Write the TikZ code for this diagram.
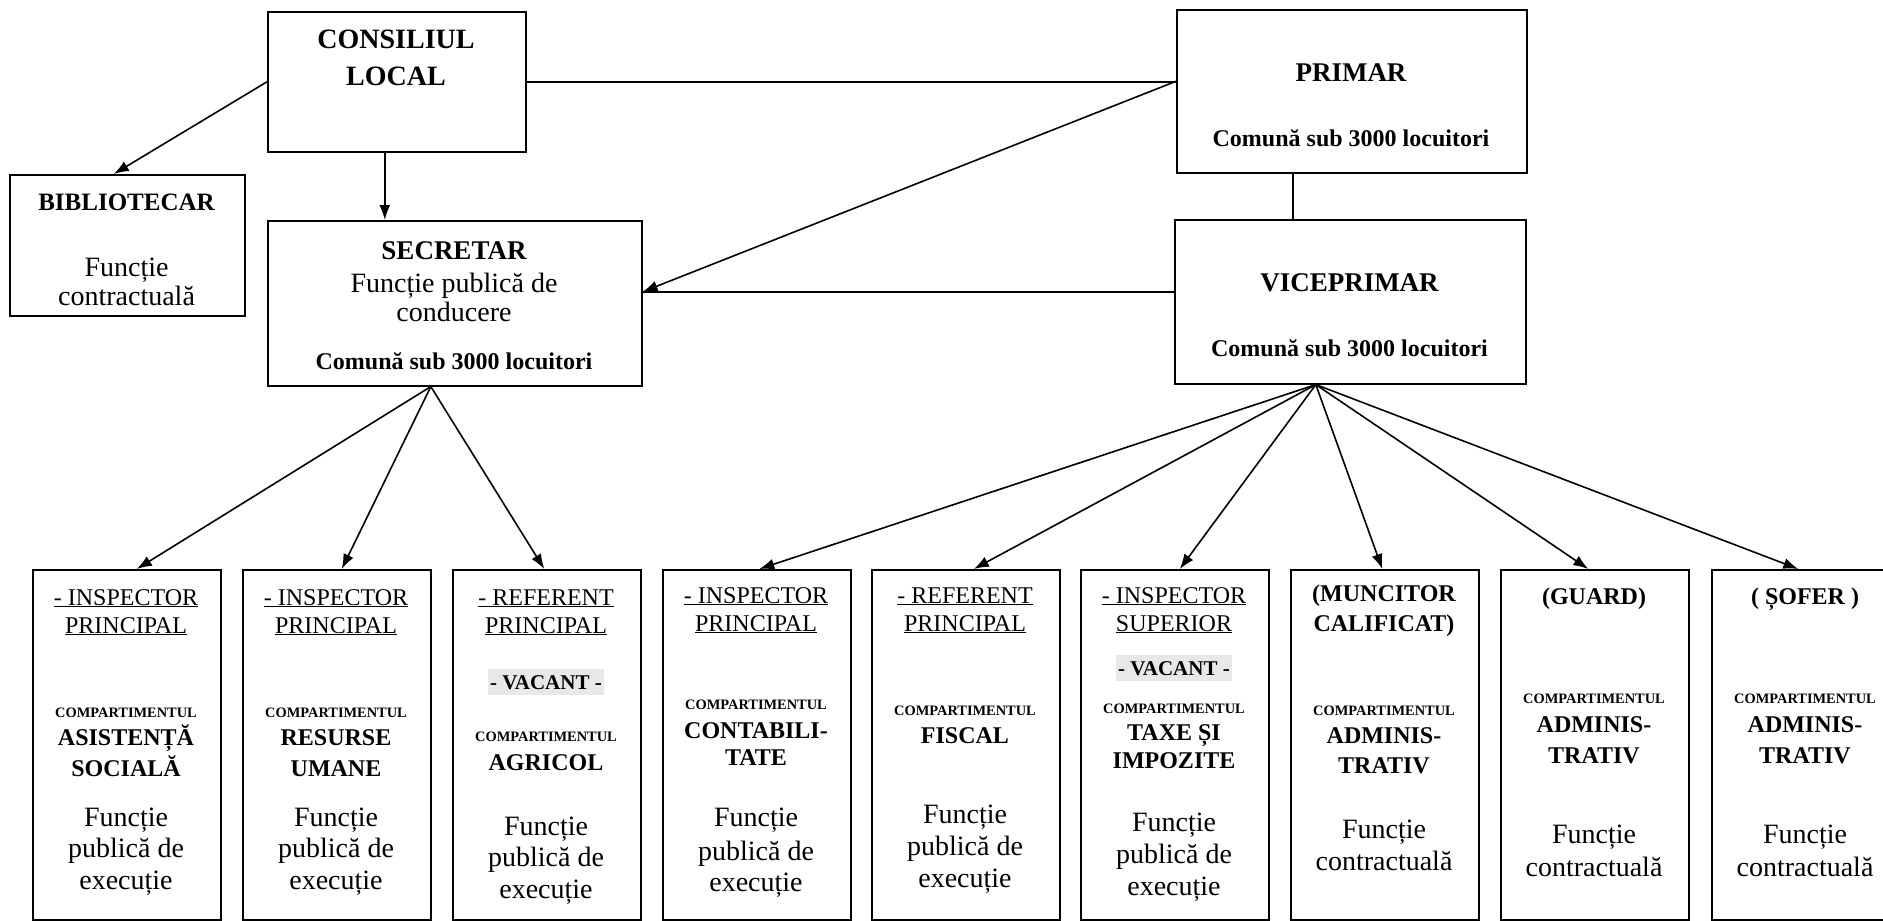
\documentclass[tikz,border=0pt]{standalone}
\usepackage{fontspec}
\setmainfont{Liberation Serif}
\usetikzlibrary{arrows.meta}
\newcommand\fsz[1]{\fontsize{#1}{#1}\selectfont}
\begin{document}
\begin{tikzpicture}[x=1pt,y=-1pt,
  box/.style={draw, line width=1.6pt, anchor=north west, inner sep=0pt},
  ln/.style={line width=1.6pt},
  arr/.style={line width=1.6pt, -{Latex[length=15pt,width=11pt]}},
  tx/.style={anchor=base, inner sep=0pt},
  ttl/.style={tx, font=\fsz{27}\bfseries},
  com/.style={tx, font=\fsz{24}\bfseries},
  fn/.style={tx, font=\fsz{28}},
  hd/.style={tx, font=\fsz{24}},
  hdb/.style={tx, font=\fsz{24}\bfseries},
  cp/.style={tx, font=\fsz{14.4}\bfseries},
  mn/.style={tx, font=\fsz{24}\bfseries},
  vac/.style={tx, font=\fsz{21}\bfseries, fill=black!9, inner xsep=2pt, inner ysep=6pt},
]
\fill[white] (0,0) rectangle (1883,921);
\useasboundingbox (0,0) rectangle (1883,921);
\clip (0,0) rectangle (1883,921);

% top boxes
\node[box, minimum width=258pt, minimum height=140pt] (CL) at (267,11) {};
\node[box, minimum width=235pt, minimum height=141pt] (BIB) at (9,174) {};
\node[box, minimum width=374pt, minimum height=165pt] (SEC) at (267,220) {};
\node[box, minimum width=350pt, minimum height=163pt] (PR) at (1176,9) {};
\node[box, minimum width=351pt, minimum height=164pt] (VICE) at (1174,219) {};

\node[tx, font=\fsz{28}\bfseries] (cl1) at (396,48) {CONSILIUL};
\node[tx, font=\fsz{28}\bfseries] (cl2) at (396,85) {LOCAL};

\node[tx, font=\fsz{25}\bfseries] (bib1) at (126.5,210) {BIBLIOTECAR};
\node[fn] (bib2) at (126.5,276) {Funcție};
\node[fn] (bib3) at (126.5,305) {contractuală};

\node[ttl] (sec1) at (454,259) {SECRETAR};
\node[fn] (sec2) at (454,292) {Funcție publică de};
\node[fn] (sec3) at (454,321) {conducere};
\node[com] (sec4) at (454,369) {Comună sub 3000 locuitori};

\node[ttl] (pr1) at (1351,81) {PRIMAR};
\node[com] (pr2) at (1351,146) {Comună sub 3000 locuitori};

\node[ttl] (vp1) at (1349.5,291) {VICEPRIMAR};
\node[com] (vp2) at (1349.5,356) {Comună sub 3000 locuitori};

% bottom boxes
\node[box, minimum width=188pt, minimum height=350pt] (b1) at (32,569) {};
\node[box, minimum width=188pt, minimum height=350pt] (b2) at (242,569) {};
\node[box, minimum width=188pt, minimum height=350pt] (b3) at (452,569) {};
\node[box, minimum width=188pt, minimum height=350pt] (b4) at (662,569) {};
\node[box, minimum width=188pt, minimum height=350pt] (b5) at (871,569) {};
\node[box, minimum width=188pt, minimum height=350pt] (b6) at (1080,569) {};
\node[box, minimum width=188pt, minimum height=350pt] (b7) at (1290,569) {};
\node[box, minimum width=188pt, minimum height=350pt] (b8) at (1500,569) {};
\node[box, minimum width=188pt, minimum height=350pt] (b9) at (1711,569) {};

% box 1
\node[hd] (t1a) at (126,605) {\underline{- INSPECTOR}};
\node[hd] (t1b) at (126,633) {\underline{PRINCIPAL}};
\node[cp] (t1c) at (126,717) {COMPARTIMENTUL};
\node[mn] (t1d) at (126,745) {ASISTENȚĂ};
\node[mn] (t1e) at (126,776) {SOCIALĂ};
\node[fn] (t1f) at (126,826) {Funcție};
\node[fn] (t1g) at (126,857) {publică de};
\node[fn] (t1h) at (126,889) {execuție};
% box 2
\node[hd] (t2a) at (336,605) {\underline{- INSPECTOR}};
\node[hd] (t2b) at (336,633) {\underline{PRINCIPAL}};
\node[cp] (t2c) at (336,717) {COMPARTIMENTUL};
\node[mn] (t2d) at (336,745) {RESURSE};
\node[mn] (t2e) at (336,776) {UMANE};
\node[fn] (t2f) at (336,826) {Funcție};
\node[fn] (t2g) at (336,857) {publică de};
\node[fn] (t2h) at (336,889) {execuție};
% box 3
\node[hd] (t3a) at (546,605) {\underline{- REFERENT}};
\node[hd] (t3b) at (546,633) {\underline{PRINCIPAL}};
\node[vac] (t3v) at (546,689) {- VACANT -};
\node[cp] (t3c) at (546,741) {COMPARTIMENTUL};
\node[mn] (t3d) at (546,770) {AGRICOL};
\node[fn] (t3f) at (546,835) {Funcție};
\node[fn] (t3g) at (546,866) {publică de};
\node[fn] (t3h) at (546,898) {execuție};
% box 4
\node[hd] (t4a) at (756,603) {\underline{- INSPECTOR}};
\node[hd] (t4b) at (756,631) {\underline{PRINCIPAL}};
\node[cp] (t4c) at (756,709) {COMPARTIMENTUL};
\node[mn] (t4d) at (756,738) {CONTABILI-};
\node[mn] (t4e) at (756,765) {TATE};
\node[fn] (t4f) at (756,826) {Funcție};
\node[fn] (t4g) at (756,860) {publică de};
\node[fn] (t4h) at (756,891) {execuție};
% box 5
\node[hd] (t5a) at (965,603) {\underline{- REFERENT}};
\node[hd] (t5b) at (965,631) {\underline{PRINCIPAL}};
\node[cp] (t5c) at (965,715) {COMPARTIMENTUL};
\node[mn] (t5d) at (965,743) {FISCAL};
\node[fn] (t5f) at (965,823) {Funcție};
\node[fn] (t5g) at (965,855) {publică de};
\node[fn] (t5h) at (965,887) {execuție};
% box 6
\node[hd] (t6a) at (1174,603) {\underline{- INSPECTOR}};
\node[hd] (t6b) at (1174,631) {\underline{SUPERIOR}};
\node[vac] (t6v) at (1174,675) {- VACANT -};
\node[cp] (t6c) at (1174,713) {COMPARTIMENTUL};
\node[mn] (t6d) at (1174,740) {TAXE ȘI};
\node[mn] (t6e) at (1174,768) {IMPOZITE};
\node[fn] (t6f) at (1174,831) {Funcție};
\node[fn] (t6g) at (1174,863) {publică de};
\node[fn] (t6h) at (1174,895) {execuție};
% box 7
\node[hdb] (t7a) at (1384,601) {(MUNCITOR};
\node[hdb] (t7b) at (1384,631) {CALIFICAT)};
\node[cp] (t7c) at (1384,715) {COMPARTIMENTUL};
\node[mn] (t7d) at (1384,743) {ADMINIS-};
\node[mn] (t7e) at (1384,773) {TRATIV};
\node[fn] (t7f) at (1384,838) {Funcție};
\node[fn] (t7g) at (1384,870) {contractuală};
% box 8
\node[hdb] (t8a) at (1594,604) {(GUARD)};
\node[cp] (t8c) at (1594,703) {COMPARTIMENTUL};
\node[mn] (t8d) at (1594,732) {ADMINIS-};
\node[mn] (t8e) at (1594,763) {TRATIV};
\node[fn] (t8f) at (1594,843) {Funcție};
\node[fn] (t8g) at (1594,876) {contractuală};
% box 9
\node[hdb] (t9a) at (1805,604) {( ȘOFER )};
\node[cp] (t9c) at (1805,703) {COMPARTIMENTUL};
\node[mn] (t9d) at (1805,732) {ADMINIS-};
\node[mn] (t9e) at (1805,763) {TRATIV};
\node[fn] (t9f) at (1805,843) {Funcție};
\node[fn] (t9g) at (1805,876) {contractuală};

% connectors
\draw[arr] (CL.west) -- ([xshift=-13.5pt]BIB.north);
\draw[arr] ([xshift=-12pt]CL.south) -- ([xshift=-12pt]CL.south |- SEC.north);
\draw[ln] (CL.east) -- (CL.east -| PR.west);
\coordinate (secR) at ([yshift=11.5pt]SEC.east);
\draw[arr] ([yshift=10pt]PR.west) -- (secR);
\draw[ln] (secR -| VICE.west) -- (secR);
\draw[ln] ([xshift=-59pt]PR.south) -- ([xshift=-59pt]PR.south |- VICE.north);
\coordinate (secB) at ([xshift=-24pt]SEC.south);
\coordinate (viceB) at ([xshift=-34.5pt]VICE.south);
\draw[arr] (secB) -- ([xshift=10pt]b1.north);
\draw[arr] (secB) -- ([xshift=5pt]b2.north);
\draw[arr] (secB) -- ([xshift=-2.5pt]b3.north);
\draw[arr] (viceB) -- ([xshift=2.5pt]b4.north);
\draw[arr] (viceB) -- ([xshift=8pt]b5.north);
\draw[arr] (viceB) -- ([xshift=5pt]b6.north);
\draw[arr] (viceB) -- ([xshift=-2.5pt]b7.north);
\draw[arr] (viceB) -- ([xshift=-6.5pt]b8.north);
\draw[arr] (viceB) -- ([xshift=-7.5pt]b9.north);
\end{tikzpicture}
\end{document}
